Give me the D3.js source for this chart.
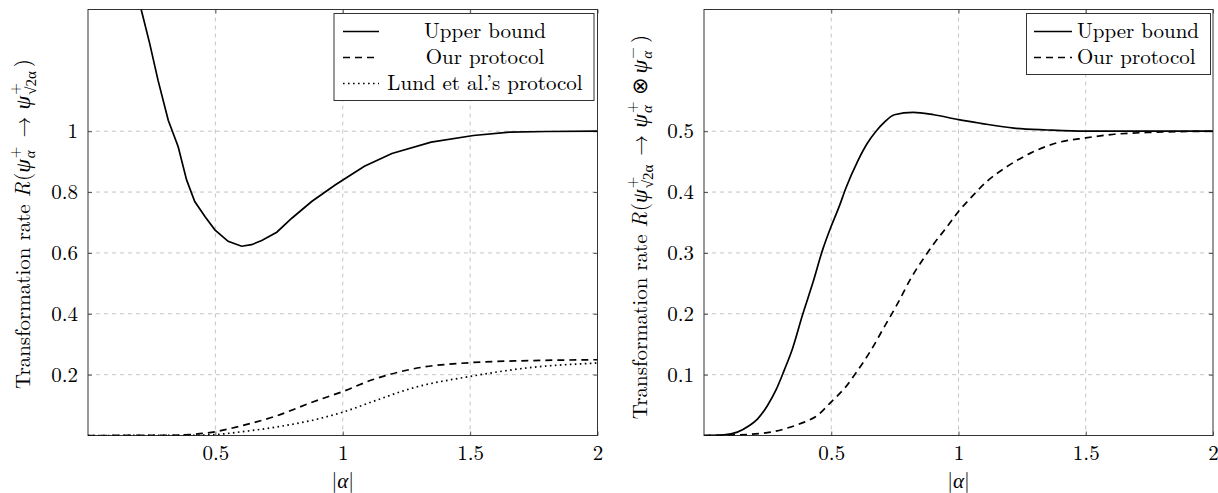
<!DOCTYPE html>
<html><head><meta charset="utf-8">
<script src="https://cdn.jsdelivr.net/npm/d3@7"></script>
<style>body{margin:0;background:#fff;}</style>
</head>
<body><svg id="c" width="1218" height="493"></svg>
<script>
// ---- data ----
const xTicks = [0.5, 1, 1.5, 2];
const xTickLabels = ["0.5", "1", "1.5", "2"];
const yTicksL = [0.2, 0.4, 0.6, 0.8, 1];
const yTickLabelsL = ["0.2", "0.4", "0.6", "0.8", "1"];
const yTicksR = [0.1, 0.2, 0.3, 0.4, 0.5];
const yTickLabelsR = ["0.1", "0.2", "0.3", "0.4", "0.5"];

const alphaUpperL = [0.18, 0.21, 0.2425, 0.275, 0.315, 0.354, 0.387, 0.419, 0.459, 0.498, 0.55, 0.603, 0.642, 0.682, 0.741, 0.8, 0.878, 0.970, 1.022, 1.085, 1.193, 1.347, 1.513, 1.655, 1.8, 2.0];
const upperL = [1.52, 1.396, 1.287, 1.167, 1.036, 0.949, 0.84, 0.769, 0.720, 0.676, 0.638, 0.622, 0.627, 0.641, 0.668, 0.714, 0.769, 0.823, 0.851, 0.885, 0.927, 0.964, 0.986, 0.997, 0.999, 1.0];
const alphaOursL = [0, 0.3, 0.4, 0.5, 0.616, 0.731, 0.885, 1.005, 1.116, 1.270, 1.513, 1.733, 2.0];
const oursL = [0, 0.0005, 0.003, 0.0125, 0.035, 0.062, 0.111, 0.146, 0.183, 0.218, 0.240, 0.246, 0.249];
const alphaLundL = [0, 0.4, 0.515, 0.6, 0.747, 0.885, 1.005, 1.116, 1.270, 1.513, 1.733, 2.0];
const lundL = [0, 0.0005, 0.004, 0.012, 0.029, 0.051, 0.078, 0.111, 0.155, 0.196, 0.223, 0.238];

const alphaUpperR = [0, 0.079, 0.131, 0.177, 0.210, 0.249, 0.282, 0.315, 0.348, 0.387, 0.427, 0.466, 0.499, 0.531, 0.558, 0.604, 0.643, 0.676, 0.709, 0.748, 0.822, 0.903, 1.0, 1.087, 1.218, 1.349, 1.5, 1.75, 2.0];
const upperR = [0, 0.001, 0.0055, 0.016, 0.027, 0.049, 0.074, 0.107, 0.143, 0.198, 0.25, 0.305, 0.343, 0.376, 0.407, 0.451, 0.481, 0.5, 0.515, 0.527, 0.531, 0.527, 0.519, 0.513, 0.505, 0.502, 0.5, 0.5, 0.5];
const alphaOursR = [0, 0.131, 0.262, 0.341, 0.394, 0.446, 0.499, 0.551, 0.604, 0.656, 0.709, 0.761, 0.814, 0.866, 0.903, 0.955, 1.0, 1.047, 1.113, 1.191, 1.283, 1.388, 1.5, 1.612, 1.743, 2.0];
const oursR = [0, 0.001, 0.0055, 0.014, 0.022, 0.033, 0.055, 0.077, 0.107, 0.140, 0.179, 0.217, 0.259, 0.293, 0.315, 0.343, 0.368, 0.390, 0.418, 0.442, 0.464, 0.481, 0.489, 0.495, 0.498, 0.5];

const legendL = ["Upper bound", "Our protocol", "Lund et al.\u2019s protocol"];
const legendR = ["Upper bound", "Our protocol"];

// ---- drawing ----
const svg = d3.select("#c");
const FONT = '"Latin Modern Roman", "CMU Serif", "Liberation Serif", serif';
const GREEK = '"Liberation Serif", serif';
const FS = 21;
const styles = {solid: null, dashed: "7,5", dotted: "1.6,3.4"};

function zip(a, b){ return a.map((x,i)=>[x,b[i]]); }
function txt(sel, fs){ return sel.style("font-family", FONT).style("font-size", (fs||FS) + "px").attr("fill", "#000"); }

function mathLabel(parent, boxes){
  const g = parent.append("g");
  let x = 0;
  boxes.forEach(b => {
    const parts = b.stack || [b];
    let w = 0;
    x += (b.pre || 0);
    parts.forEach(p => {
      const t = txt(g.append("text").attr("x", x).attr("y", p.dy || 0), p.fs)
        .style("font-style", p.it ? "italic" : "normal")
        .text(p.t);
      if (p.gr) t.style("font-family", GREEK);
      w = Math.max(w, t.node().getComputedTextLength());
    });
    x += w + (b.gap || 0);
  });
  g.attr("transform", `translate(${-x/2},0)`);
}

function panel(cfg){
  const x = d3.scaleLinear().domain([0,2]).range([cfg.x0, cfg.x1]);
  const y = d3.scaleLinear().domain([0,cfg.ymax]).range([435.5, 9.5]);
  const g = svg.append("g");
  const id = "clip" + cfg.name;
  svg.append("clipPath").attr("id", id).append("rect")
    .attr("x", cfg.x0).attr("y", 9.5).attr("width", cfg.x1-cfg.x0).attr("height", 426);
  // grid
  g.selectAll(".gx").data(cfg.xt.slice(0,-1)).enter().append("line")
    .attr("x1", d=>x(d)).attr("x2", d=>x(d)).attr("y1", 9.5).attr("y2", 435.5)
    .attr("stroke", "#bdbdbd").attr("stroke-width", 0.9).attr("stroke-dasharray", "4,4");
  g.selectAll(".gy").data(cfg.yt).enter().append("line")
    .attr("y1", d=>y(d)).attr("y2", d=>y(d)).attr("x1", cfg.x0).attr("x2", cfg.x1)
    .attr("stroke", "#bdbdbd").attr("stroke-width", 0.9).attr("stroke-dasharray", "4,4");
  // axes with inward ticks on all sides
  const ax = [
    [d3.axisBottom(x).tickValues(cfg.xt).tickFormat((d,i)=>cfg.xl[i]), `translate(0,435.5)`, true],
    [d3.axisTop(x).tickValues(cfg.xt).tickFormat(""), `translate(0,9.5)`, false],
    [d3.axisLeft(y).tickValues(cfg.yt).tickFormat((d,i)=>cfg.yl[i]), `translate(${cfg.x0},0)`, true],
    [d3.axisRight(y).tickValues(cfg.yt).tickFormat(""), `translate(${cfg.x1},0)`, false]
  ];
  ax.forEach(([a, tr, lab]) => {
    const ag = g.append("g").attr("transform", tr).call(a.tickSizeInner(-4).tickSizeOuter(0).tickPadding(lab ? 10 : 0));
    ag.select(".domain").remove();
    ag.selectAll("line").attr("stroke", "#444").attr("stroke-width", 0.9);
    txt(ag.selectAll("text"));
  });
  // frame
  g.append("rect").attr("x", cfg.x0).attr("y", 9.5).attr("width", cfg.x1-cfg.x0).attr("height", 426)
    .attr("fill", "none").attr("stroke", "#333").attr("stroke-width", 1);
  // lines
  const line = d3.line().x(d=>x(d[0])).y(d=>y(d[1]));
  cfg.series.forEach(s => {
    g.append("path").attr("clip-path", `url(#${id})`)
      .attr("d", line.curve(s.curve || d3.curveMonotoneX)(s.data))
      .attr("fill", "none").attr("stroke", "#000").attr("stroke-width", 1.7)
      .attr("stroke-dasharray", styles[s.style]);
  });
  // legend
  const L = cfg.legend;
  g.append("rect").attr("x", L.x).attr("y", L.y).attr("width", L.w).attr("height", L.h)
    .attr("fill", "#fff").attr("stroke", "#333").attr("stroke-width", 1);
  cfg.series.forEach((s, i) => {
    const yy = L.y + 18 + i * 26;
    g.append("line").attr("x1", L.lx0).attr("x2", L.lx1).attr("y1", yy).attr("y2", yy)
      .attr("stroke", "#000").attr("stroke-width", 1.7).attr("stroke-dasharray", styles[s.style]);
    txt(g.append("text").attr("x", L.tx).attr("y", yy + 6).attr("text-anchor", L.anchor)).text(s.name);
  });
  // x label
  const xl = txt(g.append("text").attr("x", (cfg.x0+cfg.x1)/2).attr("y", 488).attr("text-anchor", "middle"));
  xl.append("tspan").text("|");
  xl.append("tspan").style("font-style", "italic").style("font-family", GREEK).text("\u03b1");
  xl.append("tspan").text("|");
  // y label
  const yg = g.append("g").attr("transform", `translate(${cfg.ylx},${cfg.yly}) rotate(-90)`);
  mathLabel(yg, cfg.ylabel);
}

const SF = 15;
const psi = {t: "\u03c8", it: true, gr: true, fs: 22};
const supSubA = (sup) => ({stack: [{t: sup, fs: SF, dy: -10}, {t: "\u03b1", it: true, gr: true, fs: SF, dy: 5}], pre: 1, gap: 2});
const supSubR = {stack: [{t: "+", fs: SF, dy: -10}, {t: "\u221a2\u03b1", fs: SF, dy: 6, gr: true}], pre: 1, gap: 2};
panel({
  name: "L", x0: 88, x1: 597.5, ymax: 1.4,
  xt: xTicks, xl: xTickLabels, yt: yTicksL, yl: yTickLabelsL,
  series: [
    {name: legendL[0], style: "solid", data: zip(alphaUpperL, upperL), curve: d3.curveLinear},
    {name: legendL[1], style: "dashed", data: zip(alphaOursL, oursL)},
    {name: legendL[2], style: "dotted", data: zip(alphaLundL, lundL)}
  ],
  legend: {x: 334, y: 13.5, w: 260, h: 87, lx0: 343, lx1: 379, tx: 485, anchor: "middle"},
  ylx: 30, yly: 224,
  ylabel: [
    {t: "Transformation rate", gap: 7}, {t: "R", it: true, gap: 1}, {t: "("}, psi,
    supSubA("+"),
    {t: "\u2192", pre: 7, gap: 7}, psi,
    supSubR,
    {t: ")", pre: 2}
  ]
});
panel({
  name: "R", x0: 704, x1: 1213, ymax: 0.7,
  xt: xTicks, xl: xTickLabels, yt: yTicksR, yl: yTickLabelsR,
  series: [
    {name: legendR[0], style: "solid", data: zip(alphaUpperR, upperR)},
    {name: legendR[1], style: "dashed", data: zip(alphaOursR, oursR)}
  ],
  legend: {x: 1026.5, y: 13.5, w: 184, h: 61, lx0: 1034, lx1: 1072, tx: 1077, anchor: "start"},
  ylx: 647, yly: 227,
  ylabel: [
    {t: "Transformation rate", gap: 7}, {t: "R", it: true, gap: 1}, {t: "("}, psi,
    supSubR,
    {t: "\u2192", pre: 7, gap: 7}, psi,
    supSubA("+"),
    {t: "\u2297", pre: 4, gap: 4}, psi,
    supSubA("\u2212"),
    {t: ")", pre: 2}
  ]
});
</script></body></html>
